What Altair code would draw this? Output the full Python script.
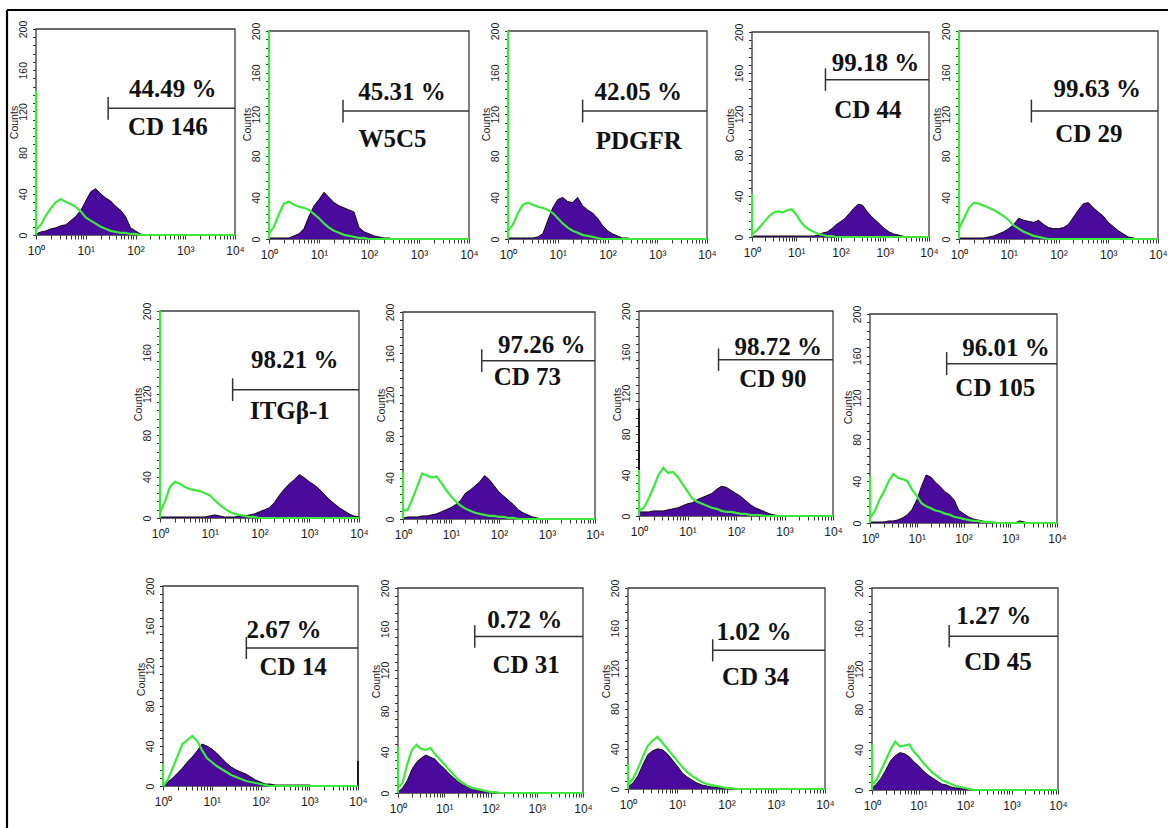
import altair as alt
import pandas as pd

# ---------------- data ----------------
DECADES = [0.0, 0.1, 0.2, 0.3, 0.4, 0.5, 0.6, 0.7, 0.8, 0.9,
           1.0, 1.1, 1.2, 1.3, 1.4, 1.5, 1.6, 1.7, 1.8, 1.9,
           2.0, 2.1, 2.2, 2.3, 2.4, 2.5, 2.6, 2.7, 2.8, 2.9,
           3.0, 3.1, 3.2, 3.3, 3.4, 3.5, 3.6, 3.7, 3.8, 3.9, 4.0]

MARKERS = ["CD 146", "W5C5", "PDGFR", "CD 44", "CD 29",
           "ITGβ-1", "CD 73", "CD 90", "CD 105",
           "CD 14", "CD 31", "CD 34", "CD 45"]
PERCENT_TEXT = ["44.49 %", "45.31 %", "42.05 %", "99.18 %", "99.63 %",
                "98.21 %", "97.26 %", "98.72 %", "96.01 %",
                "2.67 %", "0.72 %", "1.02 %", "1.27 %"]

STAINED = {
    "CD 146": [1, 3, 4, 6, 7, 9, 10, 14, 18, 24, 33, 42, 45, 40, 36, 33, 28, 24, 18, 7, 4, 1,
               0, 0, 0, 0, 0, 0, 0, 0, 0, 0, 0, 0, 0, 0, 0, 0, 0, 0, 0],
    "W5C5": [1, 1, 1, 1, 1, 3, 5, 10, 22, 32, 38, 45, 40, 35, 32, 30, 28, 26, 11, 7, 5, 3, 2, 1, 1,
             0, 0, 0, 0, 0, 0, 0, 0, 0, 0, 0, 0, 0, 0, 0, 0],
    "PDGFR": [1, 1, 1, 1, 1, 1, 2, 5, 18, 30, 38, 40, 36, 35, 40, 32, 28, 25, 20, 13, 8, 5, 3, 1, 1,
              0, 0, 0, 0, 0, 0, 0, 0, 0, 0, 0, 0, 0, 0, 0, 0],
    "CD 44": [1, 1, 1, 1, 1, 1, 1, 1, 1, 1, 1, 1, 1, 1, 1, 2, 4, 5, 8, 12,
              15, 18, 23, 28, 32, 31, 25, 20, 16, 12, 8, 5, 3, 2, 1, 0, 0, 0, 0, 0, 0],
    "CD 29": [1, 1, 1, 1, 1, 1, 2, 3, 5, 7, 10, 14, 20, 18, 17, 16, 18, 14, 11, 10,
              10, 11, 14, 21, 28, 34, 35, 30, 26, 22, 16, 12, 8, 5, 2, 1, 0, 0, 0, 0, 0],
    "ITGβ-1": [1, 1, 1, 1, 1, 1, 1, 1, 1, 1, 2, 3, 2, 1, 1, 1, 2, 2, 3, 4,
               6, 8, 10, 15, 22, 28, 33, 37, 42, 39, 35, 32, 28, 23, 18, 14, 10, 7, 4, 2, 1],
    "CD 73": [1, 2, 2, 2, 3, 3, 4, 5, 7, 9, 11, 14, 18, 25, 28, 32, 36, 42, 38, 32,
              26, 22, 18, 14, 9, 6, 4, 2, 1, 0, 0, 0, 0, 0, 0, 0, 0, 0, 0, 0, 0],
    "CD 90": [4, 4, 4, 5, 5, 5, 6, 7, 8, 10, 12, 13, 16, 18, 20, 22, 26, 29, 28, 25,
              22, 19, 15, 11, 8, 6, 4, 2, 1, 0, 0, 0, 0, 0, 0, 0, 0, 0, 0, 0, 0],
    "CD 105": [1, 1, 1, 1, 2, 2, 3, 5, 8, 13, 22, 35, 46, 44, 39, 35, 30, 27, 22, 12,
               9, 6, 4, 3, 2, 1, 1, 0, 0, 0, 0, 0, 2, 1, 0, 0, 0, 0, 0, 0, 0],
    "CD 14": [1, 4, 8, 13, 18, 24, 29, 35, 42, 40, 37, 33, 28, 23, 19, 16, 14, 12, 9, 6,
              4, 2, 2, 1, 1, 1, 1, 1, 1, 1, 1, 0, 0, 0, 0, 0, 0, 0, 0, 0, 0],
    "CD 31": [1, 5, 12, 23, 30, 34, 37, 35, 33, 28, 24, 19, 15, 11, 8, 6, 4, 3, 2, 2,
              1, 1, 0, 0, 0, 0, 0, 0, 0, 0, 0, 0, 0, 0, 0, 0, 0, 0, 0, 0, 0],
    "CD 34": [2, 6, 13, 24, 34, 38, 40, 39, 35, 29, 23, 16, 12, 9, 6, 4, 3, 2, 2, 1,
              1, 1, 0, 0, 0, 0, 0, 0, 0, 0, 0, 0, 0, 0, 0, 0, 0, 0, 0, 0, 0],
    "CD 45": [2, 6, 12, 20, 29, 34, 37, 36, 33, 28, 24, 19, 15, 12, 9, 6, 5, 3, 2, 2,
              1, 1, 0, 0, 0, 0, 0, 0, 0, 0, 0, 0, 0, 0, 0, 0, 0, 0, 0, 0, 0],
}

ISOTYPE = {
    "CD 146": [5, 10, 19, 26, 32, 35, 32, 30, 27, 23, 17, 14, 11, 8, 6, 4, 3, 2, 2, 1,
               1, 0, 0, 0, 0, 0, 0, 0, 0, 0, 0, 0, 0, 0, 0, 0, 0, 0, 0, 0, 0],
    "W5C5": [5, 12, 24, 34, 36, 33, 31, 30, 28, 24, 20, 15, 11, 8, 6, 4, 3, 2, 1, 1,
             0, 0, 0, 0, 0, 0, 0, 0, 0, 0, 0, 0, 0, 0, 0, 0, 0, 0, 0, 0, 0],
    "PDGFR": [8, 14, 25, 33, 35, 33, 31, 30, 28, 25, 20, 15, 11, 8, 6, 4, 3, 2, 1, 0,
              0, 0, 0, 0, 0, 0, 0, 0, 0, 0, 0, 0, 0, 0, 0, 0, 0, 0, 0, 0, 0],
    "CD 44": [3, 6, 11, 16, 21, 24, 25, 24, 26, 27, 22, 15, 10, 7, 5, 3, 2, 1, 1, 0,
              0, 0, 0, 0, 0, 0, 0, 0, 0, 0, 0, 0, 0, 0, 0, 0, 0, 0, 0, 0, 0],
    "CD 29": [10, 20, 30, 35, 34, 32, 30, 28, 25, 22, 18, 13, 10, 7, 5, 3, 2, 1, 0, 0,
              0, 0, 0, 0, 0, 0, 0, 0, 0, 0, 0, 0, 0, 0, 0, 0, 0, 0, 0, 0, 0],
    "ITGβ-1": [5, 16, 30, 35, 33, 30, 28, 27, 26, 24, 22, 17, 13, 9, 6, 4, 3, 2, 1, 1,
               0, 0, 0, 0, 0, 0, 0, 0, 0, 0, 0, 0, 0, 0, 0, 0, 0, 0, 0, 0, 0],
    "CD 73": [8, 9, 20, 32, 44, 42, 40, 41, 35, 28, 22, 17, 13, 10, 8, 6, 5, 4, 3, 3,
              2, 2, 1, 1, 0, 0, 0, 0, 0, 0, 0, 0, 0, 0, 0, 0, 0, 0, 0, 0, 0],
    "CD 90": [5, 8, 17, 28, 40, 47, 42, 43, 38, 31, 24, 17, 14, 12, 10, 8, 7, 5, 4, 4,
              3, 2, 2, 1, 1, 1, 0, 0, 0, 0, 0, 0, 0, 0, 0, 0, 0, 0, 0, 0, 0],
    "CD 105": [5, 11, 22, 30, 40, 47, 43, 42, 40, 32, 26, 19, 16, 14, 12, 11, 9, 8, 6, 5,
               4, 3, 2, 2, 1, 1, 1, 0, 0, 0, 0, 0, 0, 0, 0, 0, 0, 0, 0, 0, 0],
    "CD 14": [0, 6, 18, 30, 42, 46, 50, 45, 36, 28, 24, 20, 17, 14, 11, 9, 7, 5, 4, 3,
              2, 1, 0, 0, 0, 0, 0, 0, 0, 0, 0, 0, 0, 0, 0, 0, 0, 0, 0, 0, 0],
    "CD 31": [5, 10, 28, 42, 47, 43, 42, 44, 38, 33, 28, 23, 18, 13, 10, 7, 5, 4, 3, 2,
              1, 1, 0, 0, 0, 0, 0, 0, 0, 0, 0, 0, 0, 0, 0, 0, 0, 0, 0, 0, 0],
    "CD 34": [4, 10, 20, 32, 43, 48, 52, 46, 40, 34, 28, 22, 17, 13, 10, 7, 5, 4, 3, 2,
              1, 1, 0, 0, 0, 0, 0, 0, 0, 0, 0, 0, 0, 0, 0, 0, 0, 0, 0, 0, 0],
    "CD 45": [5, 10, 20, 30, 40, 48, 43, 44, 45, 38, 33, 27, 22, 17, 14, 10, 8, 6, 4, 3,
              2, 1, 0, 0, 0, 0, 0, 0, 0, 0, 0, 0, 0, 0, 0, 0, 0, 0, 0, 0, 0],
}

# pile-up of events in the first channel (isotype control)
ISOTYPE_FIRST_CHANNEL = [140, 200, 200, 42, 200, 200, 45, 45, 45, 22, 45, 25, 45]
# other single-channel spikes of the stained sample: marker -> (channel, counts)
STAINED_SPIKES = {"CD 90": (1, 105), "CD 14": (10000, 25)}

GATE_START = [1.45, 1.48, 1.50, 1.66, 1.455, 1.46, 1.64, 1.64, 1.64, 1.71, 1.66, 1.72, 1.66]
GATE_LEVEL = [123, 123, 123, 153.5, 123, 124, 153, 152.5, 152.5, 138, 152.6, 138, 152.3]
PCT_X = [2.75, 2.66, 2.62, 2.79, 2.78, 2.71, 2.89, 2.87, 2.91, 2.48, 2.74, 2.56, 2.62]
PCT_Y = [133.7, 134, 134, 161.6, 136.5, 145.2, 160, 156.7, 159.5, 148, 161.4, 148.6, 163.9]
LABEL_X = [2.65, 2.47, 2.63, 2.62, 2.61, 2.61, 2.59, 2.76, 2.68, 2.67, 2.77, 2.59, 2.71]
LABEL_Y = [96.8, 88.5, 86.3, 116.4, 93.3, 96, 129.9, 125.9, 121.2, 111.3, 116.8, 103.9, 118.7]

Y_TICKS = [0, 8, 16, 24, 32, 40, 48, 56, 64, 72, 80, 88, 96, 104, 112, 120, 128, 136,
           144, 152, 160, 168, 176, 184, 192, 200]
X_TICKS = [1, 2, 3, 4, 5, 6, 7, 8, 9, 10, 20, 30, 40, 50, 60, 70, 80, 90,
           100, 200, 300, 400, 500, 600, 700, 800, 900,
           1000, 2000, 3000, 4000, 5000, 6000, 7000, 8000, 9000, 10000]
X_TICK_LABELS = {1: "10⁰", 10: "10¹", 100: "10²", 1000: "10³", 10000: "10⁴"}

# ---------------- layout (pixel frame of each panel: left, right, top, bottom) ----------------
W, H = 1168, 828
PANEL_BOX = [
    (36, 235, 29, 235), (269, 469, 31, 239), (508, 707, 31, 239),
    (752, 929, 32, 237), (959, 1158, 31, 239),
    (160, 359, 311, 518), (403, 595, 312, 519), (639, 833, 311, 516), (870, 1057, 314, 523),
    (163, 358, 586, 786), (398, 583, 588, 793), (628, 825, 588, 789), (872, 1058, 588, 790),
]

# ---------------- styling ----------------
PURPLE = "#4a0a9c"
GREEN = "#3de83d"
INK = "#111111"
FRAME = "#3c3c3c"

x_label_expr = " : ".join(
    [f"datum.value === {k} ? '{v}'" for k, v in X_TICK_LABELS.items()]) + " : ''"


def panel(i):
    name = MARKERS[i]
    x0, x1, y0, y1 = PANEL_BOX[i]
    xs = alt.Scale(type="log", domain=[1, 10000], range=[x0, x1])
    ys = alt.Scale(domain=[0, 200], range=[y1, y0])
    xa = alt.Axis(orient="bottom", offset=y1 - H, values=X_TICKS, labelExpr=x_label_expr,
                  labelFlush=False, labelOverlap=False, labelFontSize=12, labelPadding=6,
                  tickSize=4, title="", domain=False)
    ya = alt.Axis(orient="left", offset=-x0, values=Y_TICKS,
                  labelExpr="datum.value % 40 === 0 ? datum.label : ''",
                  labelAngle=270, labelAlign="center", labelBaseline="bottom",
                  labelFontSize=10.5, labelPadding=4, tickSize=3.5,
                  title="Counts", titleFontSize=10.5, titleFontWeight="normal",
                  titleX=-22, titleY=y0 + 93, titleAngle=270, titleAlign="center",
                  titleBaseline="middle", domain=False)

    def X(f):
        return alt.X(f, type="quantitative", scale=xs, axis=xa)

    def Y(f):
        return alt.Y(f, type="quantitative", scale=ys, axis=ya)

    hist = pd.DataFrame({"ch": [10 ** d for d in DECADES],
                         "stained": STAINED[name], "iso": ISOTYPE[name]})
    g = GATE_LEVEL[i]
    gate = pd.DataFrame({
        "gx": [10 ** GATE_START[i]], "gend": [10000], "gy": [g],
        "glo": [g - 11], "ghi": [g + 11],
        "px": [10 ** PCT_X[i]], "py": [PCT_Y[i]],
        "lx": [10 ** LABEL_X[i]], "ly": [LABEL_Y[i]],
        "pct": [PERCENT_TEXT[i]], "lab": [name],
        "fx0": [1], "fx1": [10000], "fy0": [0], "fy1": [200]})
    spike = pd.DataFrame({"sx": [1], "s0": [0], "sh": [ISOTYPE_FIRST_CHANNEL[i]]})

    hb = alt.Chart(hist)
    gb = alt.Chart(gate)
    layers = [
        gb.mark_rect(fill="white", stroke=FRAME, strokeWidth=1.3).encode(
            x=X("fx0"), x2="fx1", y=Y("fy0"), y2="fy1"),
        hb.mark_area(color=PURPLE, opacity=1).encode(x=X("ch"), y=Y("stained")),
        hb.mark_line(color="black", strokeWidth=0.9).encode(x=X("ch"), y=Y("stained")),
    ]
    if name in STAINED_SPIKES:
        sx, sh = STAINED_SPIKES[name]
        sp = pd.DataFrame({"sx": [sx], "s0": [0], "sh": [sh]})
        layers.append(alt.Chart(sp).mark_rule(color="black", strokeWidth=1.6).encode(
            x=X("sx"), y=Y("s0"), y2="sh"))
    layers += [
        hb.mark_line(color=GREEN, strokeWidth=2.2).encode(x=X("ch"), y=Y("iso")),
        alt.Chart(spike).mark_rule(color=GREEN, strokeWidth=2.2).encode(
            x=X("sx"), y=Y("s0"), y2="sh"),
        gb.mark_rule(color="#333333", strokeWidth=1.5).encode(x=X("gx"), x2="gend", y=Y("gy")),
        gb.mark_rule(color="#333333", strokeWidth=1.5).encode(x=X("gx"), y=Y("glo"), y2="ghi"),
        gb.mark_text(font="Liberation Serif", fontSize=25, fontWeight="bold", color=INK,
                     align="center", baseline="alphabetic").encode(
            x=X("px"), y=Y("py"), text="pct:N"),
        gb.mark_text(font="Liberation Serif", fontSize=25, fontWeight="bold", color=INK,
                     align="center", baseline="alphabetic").encode(
            x=X("lx"), y=Y("ly"), text="lab:N"),
    ]
    return alt.layer(*layers)


frame_df = pd.DataFrame({"a": [0]})
border = alt.layer(
    alt.Chart(frame_df).mark_rule(color="black", strokeWidth=2.2).encode(
        x=alt.value(7), x2=alt.value(W), y=alt.value(10)),
    alt.Chart(frame_df).mark_rule(color="black", strokeWidth=2.2).encode(
        x=alt.value(7), y=alt.value(10), y2=alt.value(H)),
)

chart = alt.layer(
    border, *[panel(i) for i in range(len(MARKERS))]
).resolve_scale(
    x="independent", y="independent"
).properties(
    width=W, height=H, padding=0, autosize=alt.AutoSizeParams(type="none"),
    background="white",
).configure_view(
    strokeWidth=0
).configure_axis(
    grid=False, domainColor=FRAME, tickColor="#333333", labelColor="#1a1a1a",
    titleColor="#1a1a1a", labelFont="Liberation Sans", titleFont="Liberation Sans",
)

chart.save("out.html", embed_options={"renderer": "svg", "actions": False})
